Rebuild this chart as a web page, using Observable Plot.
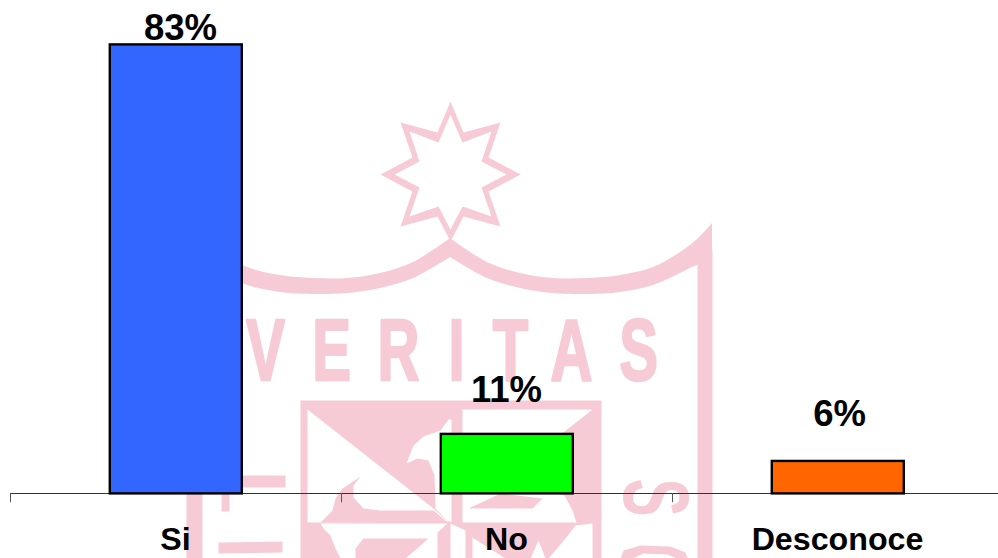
<!DOCTYPE html>
<html>
<head>
<meta charset="utf-8">
<script src="https://cdn.jsdelivr.net/npm/d3@7"></script>
<script src="https://cdn.jsdelivr.net/npm/@observablehq/plot@0.6"></script>
<style>
  html, body { margin: 0; padding: 0; background: #fff; overflow: hidden; }
  #stage { position: relative; width: 998px; height: 558px; }
  #stage svg { position: absolute; left: 0; top: 0; }
</style>
</head>
<body>
<div id="stage"></div>
<script>
// ---- chart data ----
const categories = ["Si", "No", "Desconoce"];
const values = [83, 11, 6];
const valueLabels = ["83%", "11%", "6%"];
const labelPositions = [83.9, 16.9, 12.5];
const labelOffsets = [5, 0, 2];
const barColors = ["#3366FF", "#00FF00", "#FF6600"];

// ---- watermark emblem (picture units) ----
const pink = "#F7CBD6";
const white = "#FFFFFF";
const starOuter = [[450,101],[463,132],[500,122],[488,157],[520,174],[488,191],[500,226],[463,216],[450,241],[437,216],[400,226],[412,191],[380,174],[412,157],[400,122],[437,132]];
const starInner = [[450,114],[462,142],[491,131],[481,161],[506,174],[481,187],[491,216],[462,206],[450,229],[438,206],[409,216],[419,187],[394,174],[419,161],[409,131],[438,142]];
const arcRightX = [450,487,520,553,587,620,653,680,697,712];
const arcRightTop = [238,262,273,278,278,275,267,252,239,223];
const arcRightBottom = [257,278,288,293,294,292,285,273,265,262];
const arcLeftX = [450,413,380,347,313,280,247,220,202,186];
const arcLeftTop = [238,262,273,278,278,275,267,252,239,223];
const arcLeftBottom = [257,278,288,293,294,292,285,273,265,262];
const rightPost = [[697,255],[712,250],[712,558],[697,558]];
const leftPost = [[186,250],[202,255],[202,558],[186,558]];
const shieldFrame = [[300,400],[601,400],[601,558],[300,558]];
const upperLeftWhite = [[307,409],[433,508],[447,521],[307,522]];
const upperLeftBlob = [[320,522],[332,510],[335,498],[342,488],[360,476],[353,485],[353,497],[363,508],[380,510],[433,510],[447,522]];
const upperMiddleWhite = [[448,419],[440,430],[423,436],[413,445],[406,463],[417,458],[428,460],[434,475],[435,508],[447,521],[451,521],[451,419]];
const upperRightWhite = [[462,409],[592,409],[540,450],[555,493],[564,495],[572,510],[576,522],[462,522]];
const upperRightBlob = [[468,508],[500,493],[542,498],[532,508]];
const lowerLeftWhite = [[320,523],[447,523],[437,532],[437,558],[405,558],[428,538],[363,538],[355,548],[355,558],[340,558],[335,548],[330,535],[323,528]];
const lowerStripeWhite = [[450,523],[465,530],[465,558],[450,558]];
const lowerWedgeWhite = [[472,537],[505,558],[472,558]];
const lowerRightWhite = [[592,523],[592,558],[548,558],[565,538],[575,525]];
const lowerNotchWhite = [[538,540],[545,558],[530,558]];
const sideBarTop = [[235,475],[285,475],[285,487],[235,487]];
const sideStub = [[221,470],[229,470],[229,511],[221,511]];
const sideBarLow = [[218,542],[282,541],[282,552],[218,553]];
const sideDome = [[620,558],[623,550],[640,545],[670,546],[685,552],[687,558]];
const sideDomeHollow = [[632,558],[643,553],[667,554],[677,558]];

const backLayers = [[pink, starOuter], [white, starInner], [pink, rightPost], [pink, leftPost]];
const frontLayers = [
  [pink, shieldFrame],
  [white, upperLeftWhite], [white, upperMiddleWhite], [white, upperRightWhite],
  [pink, upperLeftBlob], [pink, upperRightBlob],
  [white, lowerLeftWhite], [white, lowerStripeWhite], [white, lowerWedgeWhite],
  [white, lowerRightWhite], [white, lowerNotchWhite],
  [pink, sideBarTop], [pink, sideStub], [pink, sideBarLow],
  [pink, sideDome], [white, sideDomeHollow]
];

const mottoLetters = ["V","E","R","I","T","A","S"];
const mottoX = [265,331,398,456,510,571,638];
const mottoBaseline = 379;
const sideLetters = ["S"];
const sideX = [653];
const sideY = [497];

function squeeze(sx) {
  return (index, scales, values, dims, ctx, next) => {
    const g = next(index, scales, values, dims, ctx);
    d3.select(g).selectAll("text").attr("transform", function () {
      return (this.getAttribute("transform") || "") + ` scale(${sx},1)`;
    });
    return g;
  };
}

const polygon = ([color, pts]) => Plot.line(pts, {x: d => d[0], y: d => d[1], fill: color, stroke: "none"});
const arc = (xs, top, bottom) => Plot.areaY(xs, {
  x: d => d, y1: (d, i) => top[i], y2: (d, i) => bottom[i],
  fill: pink, curve: "catmull-rom"
});

const emblem = Plot.plot({
  width: 998, height: 558, margin: 0,
  style: {background: "transparent", fontFamily: "Liberation Sans"},
  x: {domain: [0, 998], range: [0, 998], axis: null},
  y: {domain: [0, 558], range: [0, 558], axis: null},
  marks: [
    ...backLayers.map(polygon),
    arc(arcRightX, arcRightTop, arcRightBottom),
    arc(arcLeftX, arcLeftTop, arcLeftBottom),
    ...frontLayers.map(polygon),
    Plot.text(mottoLetters, {
      x: (d, i) => mottoX[i], y: () => mottoBaseline, text: d => d,
      fill: pink, stroke: pink, strokeWidth: 2.5, fontSize: 88, fontWeight: "bold", lineAnchor: "bottom",
      render: squeeze(0.66)
    }),
    Plot.text(sideLetters, {
      x: (d, i) => sideX[i], y: (d, i) => sideY[i], text: d => d,
      fill: pink, fontSize: 92, fontWeight: "bold", rotate: 90,
      render: squeeze(0.62)
    })
  ]
});

const rows = categories.map((c, i) => ({category: c, value: values[i], color: barColors[i], label: valueLabels[i], pos: labelPositions[i]}));

const chart = Plot.plot({
  width: 998, height: 558,
  marginTop: 44, marginBottom: 65, marginLeft: 10, marginRight: 0,
  style: {background: "transparent", fontFamily: "Liberation Sans", color: "#000"},
  x: {domain: categories, range: [10, 1003], paddingInner: 0.6, paddingOuter: 0.3, label: null},
  y: {domain: [0, 83], axis: null},
  marks: [
    Plot.ruleY([0], {stroke: "#333", strokeWidth: 1}),
    Plot.ruleX(categories, {x: d => d, y1: () => 0, y2: () => -1.7, dx: -165, stroke: "#555", strokeWidth: 1}),
    Plot.barY(rows, {x: "category", y: "value", fill: "color", stroke: "#000", strokeWidth: 2.4, dx: 0.8, dy: 0.4}),
    ...rows.map((r, i) => Plot.text([r], {
      x: "category", y: "pos", text: "label", fill: "#000",
      fontSize: 36.5, fontWeight: "bold", lineAnchor: "bottom", dx: labelOffsets[i]
    })),
    Plot.axisX({tickSize: 0, tickPadding: 34, fontSize: 32.2, fontWeight: "bold", fill: "#000", label: null})
  ]
});

document.getElementById("stage").append(emblem, chart);
</script>
</body>
</html>
